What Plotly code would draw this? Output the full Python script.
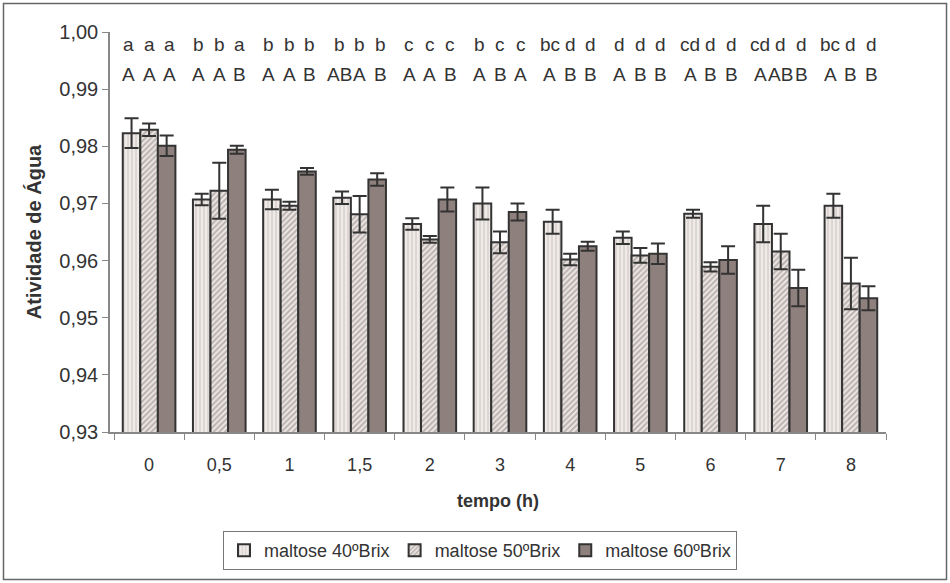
import plotly.graph_objects as go

categories = ["0", "0,5", "1", "1,5", "2", "3", "4", "5", "6", "7", "8"]
series_names = ["maltose 40ºBrix", "maltose 50ºBrix", "maltose 60ºBrix"]

aw_40 = [0.9823, 0.9707, 0.9707, 0.9710, 0.9664, 0.9700, 0.9668, 0.9640, 0.9682, 0.9664, 0.9696]
aw_50 = [0.9829, 0.9722, 0.9696, 0.9681, 0.9637, 0.9632, 0.9602, 0.9609, 0.9589, 0.9616, 0.9560]
aw_60 = [0.9801, 0.9794, 0.9756, 0.9742, 0.9707, 0.9685, 0.9625, 0.9612, 0.9601, 0.9552, 0.9534]

err_40 = [0.0026, 0.0010, 0.0017, 0.0011, 0.0010, 0.0028, 0.0021, 0.0011, 0.0007, 0.0032, 0.0021]
err_50 = [0.0011, 0.0049, 0.0007, 0.0032, 0.0006, 0.0019, 0.0010, 0.0013, 0.0008, 0.0031, 0.0045]
err_60 = [0.0018, 0.0007, 0.0006, 0.0011, 0.0021, 0.0015, 0.0008, 0.0018, 0.0024, 0.0032, 0.0021]

lower_letters = [
    ["a", "a", "a"], ["b", "b", "a"], ["b", "b", "b"], ["b", "b", "b"],
    ["c", "c", "c"], ["b", "c", "c"], ["bc", "d", "d"], ["d", "d", "d"],
    ["cd", "d", "d"], ["cd", "d", "d"], ["bc", "d", "d"],
]
upper_letters = [
    ["A", "A", "A"], ["A", "A", "B"], ["A", "A", "B"], ["AB", "A", "B"],
    ["A", "A", "B"], ["A", "B", "A"], ["A", "B", "B"], ["A", "B", "B"],
    ["A", "B", "B"], ["A", "AB", "B"], ["A", "B", "B"],
]

FONT = "Liberation Sans, Arial, sans-serif"
NARROW = "Liberation Sans Narrow, Arial Narrow, Liberation Sans, sans-serif"
DARK = "#333333"

fig = go.Figure()

styles = [
    dict(shape="|", bgcolor="#eeeae8", fgcolor="#c4b8b4", size=4, solidity=0.4),
    dict(shape="/", bgcolor="#ece8e6", fgcolor="#8a7c78", size=4, solidity=0.5),
    None,
]
fills = ["#eeeae8", "#bdb3b0", "#8e817d"]

for name, vals, errs, st, fc in zip(series_names, [aw_40, aw_50, aw_60],
                                     [err_40, err_50, err_60], styles, fills):
    marker = dict(color=fc, line=dict(color=DARK, width=2))
    if st is not None:
        marker["pattern"] = st
    fig.add_trace(go.Bar(
        x=categories, y=vals, name=name, marker=marker,
        error_y=dict(type="data", array=errs, visible=True,
                     color=DARK, thickness=2, width=7),
    ))

W, H = 950, 583
plot_left, plot_right = 110, 886
top, bottom = 32, 432
pw, ph = plot_right - plot_left, bottom - top
x_lo, x_hi = -0.557, 10.5
cat_w = pw / (x_hi - x_lo)
bargap = 0.25
bar_w = cat_w * (1 - bargap) / 3

# letter annotations above each bar
for ci, cat in enumerate(categories):
    for bi in range(3):
        shift = (bi - 1) * (bar_w + 3)
        fig.add_annotation(x=ci, y=0.9978, text=lower_letters[ci][bi], showarrow=False,
                           xshift=shift, font=dict(family=FONT, size=19, color=DARK),
                           yanchor="middle")
        fig.add_annotation(x=ci, y=0.9925, text=upper_letters[ci][bi], showarrow=False,
                           xshift=shift, font=dict(family=FONT, size=19, color=DARK),
                           yanchor="middle")

# chart outer border
fig.add_shape(type="rect", xref="paper", yref="paper",
              x0=(3.5 - plot_left) / pw, x1=(946.5 - plot_left) / pw,
              y0=(bottom - 579.5) / ph, y1=(bottom - 3.5) / ph,
              line=dict(color="#666666", width=1.5), fillcolor="rgba(0,0,0,0)", layer="below")

fig.update_layout(
    width=W, height=H,
    margin=dict(l=plot_left, r=W - plot_right, t=top, b=H - bottom, pad=0),
    paper_bgcolor="white", plot_bgcolor="white",
    barmode="group", bargap=bargap, bargroupgap=0,
    separators=",.",
    font=dict(family=FONT, size=18, color=DARK),
    showlegend=True,
    legend=dict(orientation="h", x=(480 - plot_left) / pw, xanchor="center",
                y=(bottom - 531) / ph, yanchor="top",
                bordercolor="#777777", borderwidth=1, font=dict(size=18, family=FONT, color=DARK),
                itemwidth=30, tracegroupgap=0),
    xaxis=dict(type="category", range=[x_lo, x_hi], showline=True, linecolor="#888888", linewidth=1.5,
               ticks="outside", tickson="boundaries", ticklen=6, tickcolor="#888888",
               ticklabelstandoff=16,
               tickfont=dict(size=18, family=NARROW, color=DARK),
               title=dict(text="<b>tempo (h)</b>", font=dict(size=18, family=NARROW, color=DARK), standoff=20),
               showgrid=False, zeroline=False),
    yaxis=dict(range=[0.93, 1.0], dtick=0.01, tickformat=".2f", showline=True,
               linecolor="#888888", linewidth=1.5, ticks="outside", ticklen=6, tickcolor="#888888",
               tickfont=dict(size=20, family=FONT, color=DARK),
               title=dict(text="<b>Atividade de Água</b>", font=dict(size=20, family=FONT, color=DARK), standoff=12),
               showgrid=False, zeroline=False),
)

fig.write_html("out.html", config={"displayModeBar": False},
               post_script="document.body.style.margin='0';document.body.style.overflow='hidden';")
